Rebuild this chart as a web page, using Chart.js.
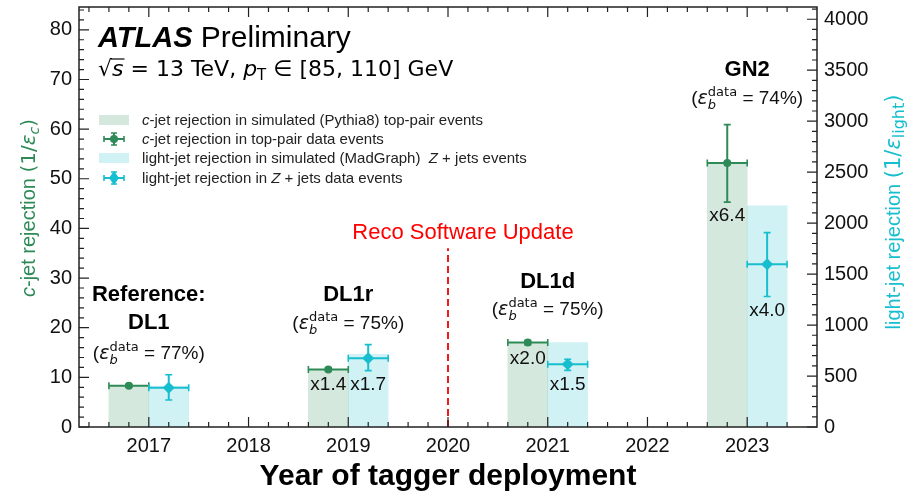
<!DOCTYPE html>
<html><head><meta charset="utf-8">
<script src="https://cdn.jsdelivr.net/npm/chart.js@4"></script>
<style>html,body{margin:0;padding:0;background:#fff}#wrap{width:907px;height:495px}</style>
</head><body><div id="wrap"><canvas id="c" width="907" height="495"></canvas></div>
<script>
// ---------------- data ----------------
const years = [2017, 2018, 2019, 2020, 2021, 2022, 2023];
const taggers = ['DL1', 'DL1r', 'DL1d', 'GN2'];
const effB = ['77%', '75%', '75%', '74%'];
const cjetX = [2016.8, 2018.8, 2020.8, 2022.8];
const ljetX = [2017.2, 2019.2, 2021.2, 2023.2];
const cjetSim = [8.3, 11.6, 17.0, 53.2];
const cjetData = [8.3, 11.6, 17.0, 53.2];
const cjetDataLo = [8.0, 11.3, 16.6, 45.3];
const cjetDataHi = [8.6, 11.9, 17.4, 60.9];
const ljetSim = [402, 714, 827, 2169];
const ljetData = [385, 674, 615, 1597];
const ljetDataLo = [265, 553, 555, 1280];
const ljetDataHi = [513, 808, 665, 1907];
const cjetRatio = [null, 'x1.4', 'x2.0', 'x6.4'];
const ljetRatio = [null, 'x1.7', 'x1.5', 'x4.0'];
const leftTicks = [0, 10, 20, 30, 40, 50, 60, 70, 80];
const rightTicks = [0, 500, 1000, 1500, 2000, 2500, 3000, 3500, 4000];
const updateYear = 2020;
const barHalfWidth = 0.2;

// ---------------- style ----------------
const GREEN = '#2e8b57';
const CYAN = '#17becf';
const GREEN_FILL = 'rgba(46,139,87,0.2)';
const CYAN_FILL = 'rgba(23,190,207,0.2)';
const SANS = "'Liberation Sans', Arial, sans-serif";
const MATH = "'DejaVu Sans', sans-serif";
const f = (size, style) => (style ? style + ' ' : '') + size + 'px ' + SANS;
const fm = (size, style) => (style ? style + ' ' : '') + size + 'px ' + MATH;

function drawRuns(ctx, runs, x, y, align, color) {
  let total = 0;
  const advs = runs.map(r => {
    ctx.font = r.f;
    const w = ctx.measureText(r.t).width;
    const a = r.adv !== undefined ? r.adv : w;
    total += a;
    return {w, a};
  });
  let cx = align === 'center' ? x - total / 2 : x;
  ctx.textAlign = 'left';
  ctx.textBaseline = 'alphabetic';
  runs.forEach((r, i) => {
    ctx.font = r.f;
    ctx.fillStyle = r.c || color || '#000';
    ctx.fillText(r.t, cx, y + (r.dy || 0));
    if (r.over) {
      ctx.strokeStyle = r.c || color || '#000';
      ctx.lineWidth = 1.2;
      ctx.beginPath();
      ctx.moveTo(cx - 1, y - r.over);
      ctx.lineTo(cx + advs[i].w + 1, y - r.over);
      ctx.stroke();
    }
    cx += advs[i].a;
  });
  return total;
}

function effRuns(val) {
  return [
    {t: '(', f: f(19)},
    {t: 'ε', f: fm(19, 'italic')},
    {t: 'b', f: fm(13, 'italic'), dy: 5, adv: 0},
    {t: 'data', f: fm(13), dy: -8},
    {t: ' = ' + val + ')', f: f(19)}
  ];
}

const annotPlugin = {
  id: 'annot',
  afterDatasetsDraw(chart) {
    const {ctx, chartArea: ca} = chart;
    const xs = chart.scales.x, ys = chart.scales.y, y2 = chart.scales.y2;
    ctx.save();
    // error bars
    const drawErr = (x, y, lo, hi, scaleY, color, cap) => {
      const px = xs.getPixelForValue(x), py = scaleY.getPixelForValue(y);
      const pl = xs.getPixelForValue(x - barHalfWidth), pr = xs.getPixelForValue(x + barHalfWidth);
      const plo = scaleY.getPixelForValue(lo), phi = scaleY.getPixelForValue(hi);
      ctx.strokeStyle = color; ctx.lineWidth = 2;
      ctx.beginPath();
      ctx.moveTo(pl, py); ctx.lineTo(pr, py);
      ctx.moveTo(px, plo); ctx.lineTo(px, phi);
      ctx.stroke();
      ctx.lineWidth = 1.6;
      ctx.beginPath();
      ctx.moveTo(pl, py - cap); ctx.lineTo(pl, py + cap);
      ctx.moveTo(pr, py - cap); ctx.lineTo(pr, py + cap);
      ctx.moveTo(px - cap, plo); ctx.lineTo(px + cap, plo);
      ctx.moveTo(px - cap, phi); ctx.lineTo(px + cap, phi);
      ctx.stroke();
    };
    cjetX.forEach((x, i) => drawErr(x, cjetData[i], cjetDataLo[i], cjetDataHi[i], ys, GREEN, 3.5));
    ljetX.forEach((x, i) => drawErr(x, ljetData[i], ljetDataLo[i], ljetDataHi[i], y2, CYAN, 3.5));

    // ratio labels
    ctx.font = f(19); ctx.fillStyle = '#111'; ctx.textAlign = 'center'; ctx.textBaseline = 'middle';
    cjetX.forEach((x, i) => { if (cjetRatio[i]) ctx.fillText(cjetRatio[i], xs.getPixelForValue(x), ys.getPixelForValue(cjetDataLo[i]) + 14); });
    ljetX.forEach((x, i) => { if (ljetRatio[i]) ctx.fillText(ljetRatio[i], xs.getPixelForValue(x), y2.getPixelForValue(ljetDataLo[i]) + 14); });

    // software update line
    const ux = xs.getPixelForValue(updateYear);
    ctx.strokeStyle = 'rgba(240,0,0,0.9)'; ctx.lineWidth = 2; ctx.setLineDash([7, 4]);
    ctx.beginPath(); ctx.moveTo(ux, ca.bottom); ctx.lineTo(ux, ys.getPixelForValue(36)); ctx.stroke();
    ctx.setLineDash([]);
    ctx.font = f(22); ctx.fillStyle = '#f00'; ctx.textAlign = 'center'; ctx.textBaseline = 'middle';
    ctx.fillText('Reco Software Update', ux + 15, 233);

    // tagger labels
    const tagY = [[295, 323, 352], [295, 322], [282, 308], [70, 97]];
    years.filter((y, k) => k % 2 === 0).forEach((yr, i) => {
      const px = xs.getPixelForValue(yr);
      ctx.font = f(22, 'bold'); ctx.fillStyle = '#000'; ctx.textAlign = 'center'; ctx.textBaseline = 'middle';
      let effY;
      if (i === 0) {
        ctx.fillText('Reference:', px, tagY[0][0]);
        ctx.fillText(taggers[0], px, tagY[0][1]);
        effY = tagY[0][2];
      } else {
        ctx.fillText(taggers[i], px, tagY[i][0]);
        effY = tagY[i][1];
      }
      drawRuns(ctx, effRuns(effB[i]), px, effY + 7, 'center', '#111');
    });

    // ATLAS label
    drawRuns(ctx, [{t: 'ATLAS', f: f(29, 'italic bold')}, {t: ' Preliminary', f: f(30)}], 98, 47, 'left', '#000');
    drawRuns(ctx, [
      {t: '√', f: fm(22)},
      {t: 's', f: fm(22, 'italic'), over: 17},
      {t: ' = 13 TeV, ', f: fm(22)},
      {t: 'p', f: fm(22, 'italic')},
      {t: 'T', f: fm(15), dy: 4},
      {t: ' ∈ [85, 110] GeV', f: fm(22)}
    ], 98, 76, 'left', '#000');

    // legend
    ctx.fillStyle = GREEN_FILL; ctx.fillRect(99, 115, 30, 10);
    ctx.fillStyle = CYAN_FILL; ctx.fillRect(99, 153, 30, 10);
    const legErr = (cx, cy, color) => {
      ctx.strokeStyle = color; ctx.lineWidth = 2;
      ctx.beginPath(); ctx.moveTo(cx - 10, cy); ctx.lineTo(cx + 10, cy); ctx.moveTo(cx, cy - 6); ctx.lineTo(cx, cy + 6); ctx.stroke();
      ctx.lineWidth = 1.6;
      ctx.beginPath();
      ctx.moveTo(cx - 10, cy - 3); ctx.lineTo(cx - 10, cy + 3); ctx.moveTo(cx + 10, cy - 3); ctx.lineTo(cx + 10, cy + 3);
      ctx.moveTo(cx - 3, cy - 6); ctx.lineTo(cx + 3, cy - 6); ctx.moveTo(cx - 3, cy + 6); ctx.lineTo(cx + 3, cy + 6);
      ctx.stroke();
    };
    legErr(114, 139, GREEN);
    ctx.fillStyle = GREEN; ctx.beginPath(); ctx.arc(114, 139, 4, 0, Math.PI * 2); ctx.fill();
    legErr(114, 178, CYAN);
    ctx.fillStyle = CYAN; ctx.beginPath(); ctx.moveTo(114, 171); ctx.lineTo(119, 178); ctx.lineTo(114, 185); ctx.lineTo(109, 178); ctx.closePath(); ctx.fill();
    const LF = f(15), LFI = f(15, 'italic');
    drawRuns(ctx, [{t: 'c', f: LFI}, {t: '-jet rejection in simulated (Pythia8) top-pair events', f: LF}], 142, 125, 'left', '#222');
    drawRuns(ctx, [{t: 'c', f: LFI}, {t: '-jet rejection in top-pair data events', f: LF}], 142, 144, 'left', '#222');
    drawRuns(ctx, [{t: 'light-jet rejection in simulated (MadGraph)  ', f: LF}, {t: 'Z', f: LFI}, {t: ' + jets events', f: LF}], 142, 163, 'left', '#222');
    drawRuns(ctx, [{t: 'light-jet rejection in ', f: LF}, {t: 'Z', f: LFI}, {t: ' + jets data events', f: LF}], 142, 183, 'left', '#222');

    // axis titles
    ctx.save(); ctx.translate(28, 208); ctx.rotate(-Math.PI / 2);
    drawRuns(ctx, [{t: 'c', f: f(20, 'italic')}, {t: '-jet rejection ', f: f(20)}, {t: '(1/', f: fm(20)}, {t: 'ε', f: fm(20, 'italic')}, {t: 'c', f: fm(14, 'italic'), dy: 4}, {t: ')', f: fm(20)}], 0, 7, 'center', GREEN);
    ctx.restore();
    ctx.save(); ctx.translate(893, 212); ctx.rotate(-Math.PI / 2);
    drawRuns(ctx, [{t: 'light-jet rejection ', f: f(20)}, {t: '(1/', f: fm(21)}, {t: 'ε', f: fm(21, 'italic')}, {t: 'light', f: fm(16), dy: 4}, {t: ')', f: fm(21)}], 0, 7, 'center', CYAN);
    ctx.restore();

    // frame + inner ticks
    ctx.strokeStyle = '#222'; ctx.lineWidth = 1.5;
    ctx.strokeRect(ca.left, ca.top, ca.right - ca.left, ca.bottom - ca.top);
    ctx.lineWidth = 1.2;
    ctx.beginPath();
    for (let k = 0; k <= 42; k++) {
      const v = k * 2; const p = ys.getPixelForValue(v); const L = v % 10 === 0 ? 10 : 5;
      ctx.moveTo(ca.left, p); ctx.lineTo(ca.left + L, p);
    }
    for (let k = 0; k <= 41; k++) {
      const v = k * 100; const p = y2.getPixelForValue(v); const L = v % 500 === 0 ? 10 : 5;
      ctx.moveTo(ca.right, p); ctx.lineTo(ca.right - L, p);
    }
    for (let k = 1; k <= 36; k++) {
      const v = 2016.4 + (k - 1) * 0.2; const p = xs.getPixelForValue(v);
      const major = Math.abs(v - Math.round(v)) < 1e-6; const L = major ? 10 : 5;
      ctx.moveTo(p, ca.bottom); ctx.lineTo(p, ca.bottom - L);
      ctx.moveTo(p, ca.top); ctx.lineTo(p, ca.top + L);
    }
    ctx.stroke();
    ctx.restore();
  }
};

const noPadV = s => { s.paddingTop = 0; s.paddingBottom = 0; };

new Chart(document.getElementById('c'), {
  data: {
    datasets: [
      {type: 'scatter', label: 'c-jet data', data: cjetX.map((x, i) => ({x, y: cjetData[i]})), yAxisID: 'y', pointStyle: 'circle', pointRadius: 4, backgroundColor: GREEN, borderColor: GREEN, borderWidth: 0, order: 0},
      {type: 'scatter', label: 'light-jet data', data: ljetX.map((x, i) => ({x, y: ljetData[i]})), yAxisID: 'y2', pointStyle: 'rectRot', pointRadius: 6, backgroundColor: CYAN, borderColor: CYAN, borderWidth: 0, order: 0},
      {type: 'bar', label: 'c-jet sim', data: cjetX.map((x, i) => ({x, y: cjetSim[i]})), yAxisID: 'y', backgroundColor: GREEN_FILL, barPercentage: 1, categoryPercentage: 1, stack: 'a', order: 2},
      {type: 'bar', label: 'light-jet sim', data: ljetX.map((x, i) => ({x, y: ljetSim[i]})), yAxisID: 'y2', backgroundColor: CYAN_FILL, barPercentage: 1, categoryPercentage: 1, stack: 'a', order: 2}
    ]
  },
  options: {
    responsive: false, animation: false, devicePixelRatio: 1,
    layout: {padding: {top: 7, left: 0, right: 0, bottom: 0}},
    plugins: {legend: {display: false}, tooltip: {enabled: false}},
    scales: {
      x: {
        type: 'linear', min: 2016.3, max: 2023.7, offset: false, stacked: true,
        grid: {display: false, drawTicks: false}, border: {display: false},
        afterBuildTicks: s => { s.ticks = years.map(v => ({value: v})); },
        afterFit: s => { s.height = 68; s.paddingLeft = 0; s.paddingRight = 0; },
        ticks: {font: {family: SANS, size: 20}, color: '#111', padding: 7, maxRotation: 0, autoSkip: false, callback: v => String(v)},
        title: {display: true, text: 'Year of tagger deployment', font: {family: SANS, size: 30, weight: 'bold'}, color: '#000', padding: {top: 0, bottom: 0}}
      },
      y: {
        type: 'linear', position: 'left', min: 0, max: 84.6,
        grid: {display: false, drawTicks: false}, border: {display: false},
        afterBuildTicks: s => { s.ticks = leftTicks.map(v => ({value: v})); },
        afterFit: s => { s.width = 79; noPadV(s); },
        ticks: {font: {family: SANS, size: 20}, color: '#111', padding: 7}
      },
      y2: {
        type: 'linear', position: 'right', min: 0, max: 4120,
        grid: {display: false, drawTicks: false}, border: {display: false},
        afterBuildTicks: s => { s.ticks = rightTicks.map(v => ({value: v})); },
        afterFit: s => { s.width = 90; noPadV(s); },
        ticks: {font: {family: SANS, size: 20}, color: '#111', padding: 7, callback: v => String(v)}
      }
    }
  },
  plugins: [annotPlugin]
});
</script></body></html>
